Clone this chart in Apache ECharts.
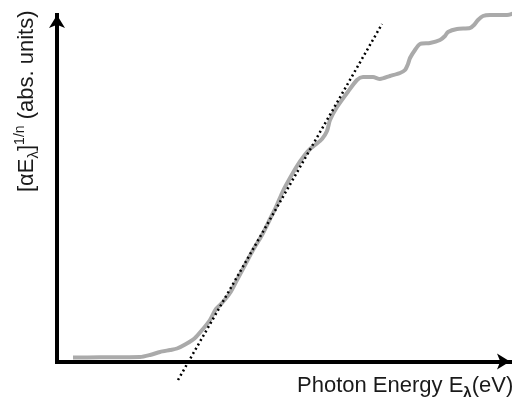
<!DOCTYPE html>
<html>
<head>
<meta charset="utf-8">
<script src="https://cdn.jsdelivr.net/npm/echarts@6/dist/echarts.min.js"></script>
<style>html,body{margin:0;padding:0;background:#fff}#c{width:519px;height:403px}</style>
</head>
<body>
<div id="c"></div>
<script>
// Photon energy (arbitrary units) and absorption [αE]^(1/n) (arbitrary units)
var energy = [16, 43, 83, 93, 103, 113, 120, 129, 138, 146, 153, 159, 165, 173, 180, 188, 196, 205, 213, 219, 226, 233, 240, 247, 253, 258, 265, 270, 273, 280, 290, 300, 306, 316, 323, 333, 343, 348, 351, 353, 358, 363, 373, 383, 388, 391, 400, 413, 417, 421, 426, 433, 440, 450, 460];
var absorption = [4, 4.2, 4.5, 6.5, 9.5, 11.5, 13, 17.5, 23.5, 32.5, 41.5, 52.5, 58.5, 68.5, 81.5, 96.5, 111.5, 126.5, 142.5, 154.5, 170.5, 183.5, 195.5, 205.5, 212.5, 216.5, 222.5, 230.5, 241.5, 254.5, 268.5, 281.5, 284.5, 284.5, 282.5, 285.5, 288.5, 291.5, 297.5, 303.5, 311.5, 317.5, 318.5, 321.5, 325.5, 329.5, 332.5, 333.5, 336.5, 341.5, 345.5, 346.5, 346.5, 346.5, 349.5];
// Tauc linear fit (extrapolated) end points
var fitX = [121, 325];
var fitY = [-18.5, 337.5];

var xLabel = '{m|Photon Energy E}{s|λ}{m|(eV)}';
var yLabel = '{m|[αE}{s|λ}{m|]}{p|1/n}{m| (abs. units)}';

var curve = energy.map(function (e, i) { return [e, absorption[i]]; });
var fit = fitX.map(function (e, i) { return [e, fitY[i]]; });

var chart = echarts.init(document.getElementById('c'));
var axisCommon = {
  type: 'value',
  axisLine: { show: true, symbol: ['none', 'arrow'], symbolSize: [12, 13],
    lineStyle: { color: '#000', width: 4, cap: 'square' } },
  axisTick: { show: false }, axisLabel: { show: false }, splitLine: { show: false }
};
chart.setOption({
  animation: false,
  grid: { left: 57, right: 9, top: 15, bottom: 41.5 },
  xAxis: Object.assign({}, axisCommon, { min: 0, max: 453 }),
  yAxis: Object.assign({}, axisCommon, { min: 0, max: 346.5 }),
  series: [
    { type: 'line', data: curve, showSymbol: false, clip: false, smooth: 0.25,
      lineStyle: { color: '#aaaaaa', width: 4 } },
    { type: 'line', data: fit, showSymbol: false, clip: false,
      lineStyle: { color: '#000', width: 2.5, type: [2, 3] } }
  ],
  graphic: [
    { type: 'text', x: 297, y: 386,
      style: { text: xLabel, align: 'left', verticalAlign: 'middle',
        rich: {
          m: { fontFamily: 'Liberation Sans', fontSize: 22, fill: '#1a1a1a', lineHeight: 28, verticalAlign: 'middle' },
          s: { fontFamily: 'Liberation Sans', fontSize: 15, fontWeight: 'bold', fill: '#1a1a1a', lineHeight: 28, verticalAlign: 'bottom' }
        } } },
    { type: 'text', x: 27, y: 192, rotation: Math.PI / 2,
      style: { text: yLabel, align: 'left', verticalAlign: 'middle',
        rich: {
          m: { fontFamily: 'Liberation Sans', fontSize: 22, fill: '#1a1a1a', lineHeight: 28, verticalAlign: 'middle' },
          s: { fontFamily: 'Liberation Sans', fontSize: 15, fill: '#1a1a1a', lineHeight: 28, verticalAlign: 'bottom' },
          p: { fontFamily: 'Liberation Sans', fontSize: 14, fill: '#1a1a1a', lineHeight: 28, verticalAlign: 'top' }
        } } }
  ]
});
</script>
</body>
</html>
